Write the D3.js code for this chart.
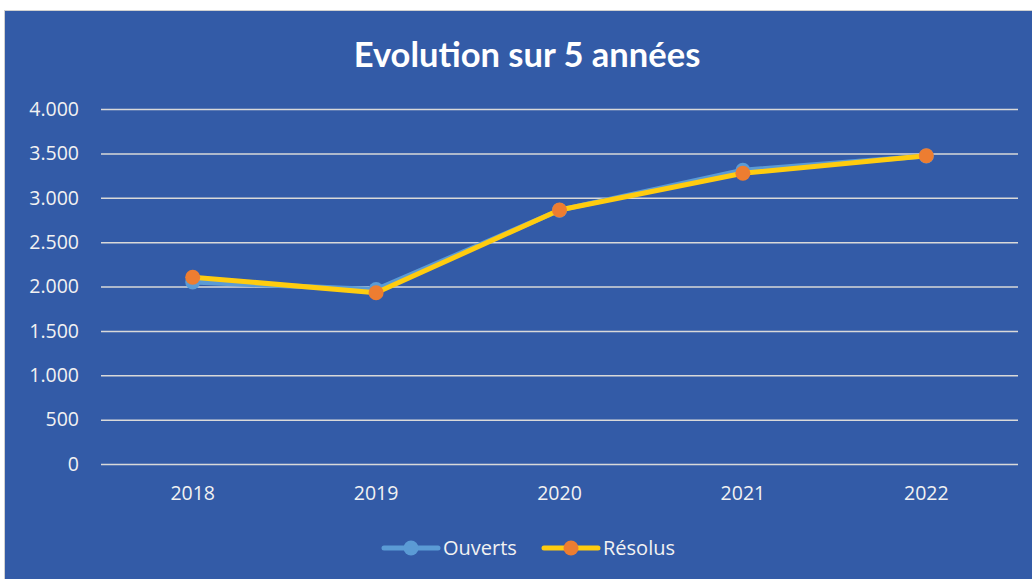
<!DOCTYPE html>
<html>
<head>
<meta charset="utf-8">
<script src="https://cdn.jsdelivr.net/npm/d3@7"></script>
<style>
  html, body { margin: 0; padding: 0; background: #ffffff; }
  svg { display: block; }
</style>
</head>
<body>
<svg id="chart" width="1032" height="579"></svg>
<script>
// Yearly counts of opened and resolved items
const years = ["2018", "2019", "2020", "2021", "2022"];
const ouverts = [2050, 1965, 2860, 3310, 3470];
const resolus = [2105, 1930, 2862, 3276, 3474];
const yTicks = [0, 500, 1000, 1500, 2000, 2500, 3000, 3500, 4000];

const W = 1032, H = 579;
const margin = { left: 101, right: 14, top: 109, bottom: 115 };
const svg = d3.select("#chart");

const bg = "#335ba7";
const grid = "#d9d9d9";
const textCol = "#f2f2f2";
const font = "'Open Sans', 'Noto Sans', sans-serif";

// panel background
svg.append("rect")
  .attr("x", 4.5).attr("y", 10.5)
  .attr("width", W - 4).attr("height", H - 10)
  .attr("fill", bg).attr("stroke", "#d0d0d0").attr("stroke-width", 1);

const x = d3.scaleBand().domain(years).range([margin.left, W - margin.right]);
const y = d3.scaleLinear().domain([0, 4000]).range([H - margin.bottom, margin.top]);

// title
svg.append("text")
  .attr("x", 527).attr("y", 67)
  .attr("text-anchor", "middle")
  .attr("fill", "#ffffff")
  .attr("font-family", "Lato, 'Open Sans', sans-serif")
  .attr("font-weight", "bold")
  .attr("font-size", 34.5)
  .text("Evolution sur 5 années");

// horizontal gridlines + y labels
const yAxis = d3.axisLeft(y)
  .tickValues(yTicks)
  .tickSize(-(W - margin.left - margin.right))
  .tickPadding(22)
  .tickFormat(d => d3.format(",")(d).replace(/,/g, "."));

const gy = svg.append("g")
  .attr("transform", `translate(${margin.left},0)`)
  .call(yAxis);
gy.select(".domain").remove();
gy.selectAll(".tick line").attr("stroke", grid).attr("stroke-width", 1.5);
gy.selectAll(".tick text")
  .attr("fill", textCol)
  .attr("font-family", font)
  .attr("font-size", 19.5);

// x labels
const xAxis = d3.axisBottom(x).tickSize(0).tickPadding(22);
const gx = svg.append("g")
  .attr("transform", `translate(0,${H - margin.bottom})`)
  .call(xAxis);
gx.select(".domain").remove();
gx.selectAll(".tick text")
  .attr("fill", textCol)
  .attr("font-family", font)
  .attr("font-size", 19.5);

const cx = d => x(d) + x.bandwidth() / 2;

const series = [
  { name: "Ouverts", values: ouverts, line: "#5b9bd5", dot: "#5b9bd5" },
  { name: "Résolus", values: resolus, line: "#ffcc0f", dot: "#ed7d31" }
];

const lineGen = d3.line()
  .x((d, i) => cx(years[i]))
  .y(d => y(d));

series.forEach(s => {
  svg.append("path")
    .datum(s.values)
    .attr("fill", "none")
    .attr("stroke", s.line)
    .attr("stroke-width", 5)
    .attr("stroke-linejoin", "round")
    .attr("stroke-linecap", "round")
    .attr("d", lineGen);
  svg.append("g").selectAll("circle")
    .data(s.values)
    .join("circle")
    .attr("cx", (d, i) => cx(years[i]))
    .attr("cy", d => y(d))
    .attr("r", 7.5)
    .attr("fill", s.dot);
});

// legend
const legend = svg.append("g");
const legendItems = [
  { s: series[0], x0: 384 },
  { s: series[1], x0: 544 }
];
const ly = 548;
legendItems.forEach(({ s, x0 }) => {
  legend.append("line")
    .attr("x1", x0).attr("x2", x0 + 54)
    .attr("y1", ly).attr("y2", ly)
    .attr("stroke", s.line).attr("stroke-width", 5)
    .attr("stroke-linecap", "round");
  legend.append("circle")
    .attr("cx", x0 + 27).attr("cy", ly).attr("r", 7.5)
    .attr("fill", s.dot);
  legend.append("text")
    .attr("x", x0 + 59).attr("y", ly)
    .attr("dy", "0.35em")
    .attr("fill", textCol)
    .attr("font-family", font)
    .attr("font-size", 20)
    .text(s.name);
});
</script>
</body>
</html>
